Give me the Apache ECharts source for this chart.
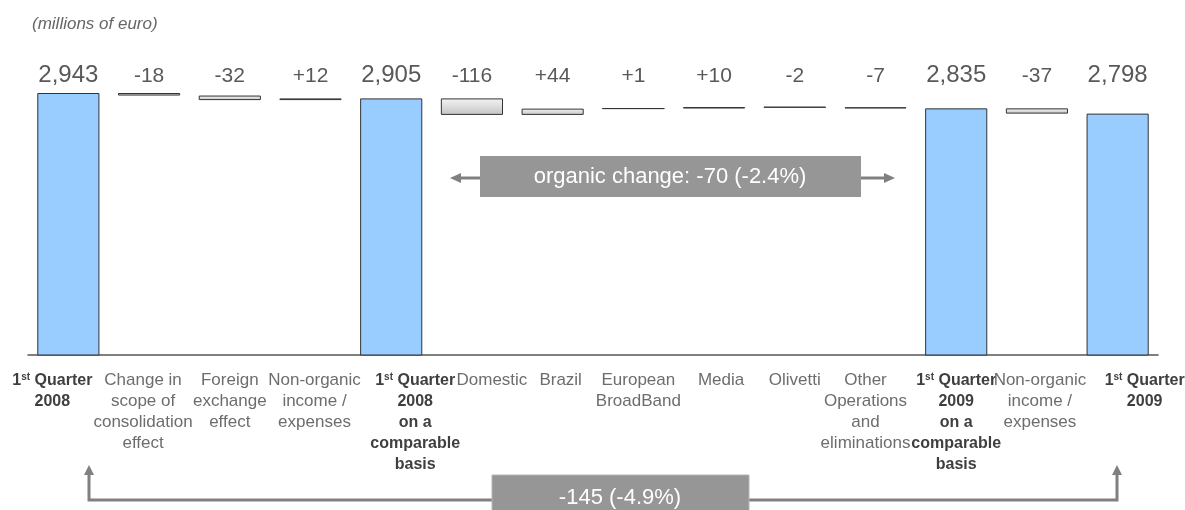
<!DOCTYPE html>
<html><head><meta charset="utf-8">
<script src="https://cdn.jsdelivr.net/npm/echarts@6/dist/echarts.min.js"></script>
<style>html,body{margin:0;padding:0;background:#fff}#c{width:1185px;height:510px}</style>
</head><body><div id="c"></div>
<script>
const categories = [
  '1st Quarter\n2008',
  'Change in\nscope of\nconsolidation\neffect',
  'Foreign\nexchange\neffect',
  'Non-organic\nincome /\nexpenses',
  '1st Quarter\n2008\non a\ncomparable\nbasis',
  'Domestic',
  'Brazil',
  'European\nBroadBand',
  'Media',
  'Olivetti',
  'Other\nOperations\nand\neliminations',
  '1st Quarter\n2009\non a\ncomparable\nbasis',
  'Non-organic\nincome /\nexpenses',
  '1st Quarter\n2009'
];
const values = [2943, -18, -32, 12, 2905, -116, 44, 1, 10, -2, -7, 2835, -37, 2798];
const isTotal = [true, false, false, false, true, false, false, false, false, false, false, true, false, true];
const valueLabels = ['2,943', '-18', '-32', '+12', '2,905', '-116', '+44', '+1', '+10', '-2', '-7', '2,835', '-37', '2,798'];
const unitText = '(millions of euro)';
const organicText = 'organic change: -70 (-2.4%)';
const totalChangeText = '-145 (-4.9%)';

// style only: horizontal nudge (px) of each category label, as laid out in the original slide
const labelShift = [-16, -6, 0, 4, 24, 20, 8, 5, 7, 0, -10, 0, 3, 27];

// waterfall decomposition
const baseData = [];
const barData = [];
let level = 0;
values.forEach((v, i) => {
  if (isTotal[i]) {
    baseData.push(0);
    barData.push(v);
    level = v;
  } else {
    const next = level + v;
    baseData.push(Math.min(level, next));
    barData.push(Math.abs(v));
    level = next;
  }
});

const FONT = '"Liberation Sans", Arial, sans-serif';
const deltaFill = {
  type: 'linear', x: 0, y: 0, x2: 0, y2: 1,
  colorStops: [{ offset: 0, color: '#f4f4f4' }, { offset: 1, color: '#c4c4c4' }]
};

const catRich = {
  n: { fontSize: 17, lineHeight: 21, color: '#6d6d6d', fontFamily: FONT, align: 'center' },
  b: { fontSize: 16, lineHeight: 21, color: '#3f3f3f', fontWeight: 'bold', fontFamily: FONT, align: 'center' },
  sup: { fontSize: 10, color: '#3f3f3f', fontWeight: 'bold', fontFamily: FONT, verticalAlign: 'top', align: 'center', padding: [2, 0, 0, 0] }
};
labelShift.forEach((s, i) => {
  catRich['g' + i] = { width: Math.max(1, Math.abs(s) * 2), fontSize: 17, lineHeight: 21, align: 'center' };
});

function catFmt(v, i) {
  const s = labelShift[i] || 0;
  const sp = s !== 0 ? '{g' + i + '| }' : '';
  const lines = v.split('\n').map(line => {
    let body;
    if (line.indexOf('1st ') === 0) body = '{b|1}{sup|st}{b|' + line.slice(3) + '}';
    else if (isTotal[i]) body = '{b|' + line + '}';
    else body = '{n|' + line + '}';
    return s > 0 ? sp + body : (s < 0 ? body + sp : body);
  });
  return lines.join('\n');
}

const chart = echarts.init(document.getElementById('c'), null, { renderer: 'canvas' });
const grey = '#808080';
chart.setOption({
  animation: false,
  backgroundColor: '#fff',
  textStyle: { fontFamily: FONT },
  grid: { left: 28, right: 27, top: 93, bottom: 155, containLabel: false, outerBoundsMode: 'none' },
  xAxis: [
    {
      type: 'category', position: 'bottom', data: categories,
      axisLine: { lineStyle: { color: '#555', width: 1.5 } },
      axisTick: { show: false },
      axisLabel: {
        interval: 0, margin: 15, hideOverlap: false,
        formatter: catFmt,
        rich: catRich
      }
    },
    {
      type: 'category', position: 'top', data: valueLabels,
      axisLine: { show: false }, axisTick: { show: false },
      axisLabel: {
        interval: 0, margin: 6, hideOverlap: false,
        formatter: (v, i) => (isTotal[i] ? '{t|' + v + '}' : '{d|' + v + '}'),
        rich: {
          t: { fontSize: 24, color: '#595959', fontFamily: FONT },
          d: { fontSize: 21, color: '#595959', fontFamily: FONT }
        }
      }
    }
  ],
  yAxis: { type: 'value', min: 1100, max: 2943, show: false, splitLine: { show: false } },
  series: [
    {
      type: 'bar', stack: 'w', data: baseData, barWidth: '77%', silent: true,
      itemStyle: { color: 'rgba(0,0,0,0)' }, clip: true
    },
    {
      type: 'bar', stack: 'w', barWidth: '77%', clip: true,
      data: barData.map((v, i) => ({
        value: v,
        itemStyle: isTotal[i]
          ? { color: '#99CCFF', borderColor: '#333', borderWidth: 1 }
          : { color: deltaFill, borderColor: '#333', borderWidth: 1 }
      }))
    }
  ],
  graphic: [
    { type: 'text', left: 32, top: 16, style: { text: unitText, font: 'italic 17px ' + FONT, fill: '#666' } },
    // organic change annotation
    { type: 'line', shape: { x1: 458, y1: 178, x2: 481, y2: 178 }, style: { stroke: grey, lineWidth: 3 } },
    { type: 'polygon', shape: { points: [[450, 178], [461, 173], [461, 183]] }, style: { fill: grey } },
    { type: 'line', shape: { x1: 860, y1: 178, x2: 886, y2: 178 }, style: { stroke: grey, lineWidth: 3 } },
    { type: 'polygon', shape: { points: [[895, 178], [884, 173], [884, 183]] }, style: { fill: grey } },
    { type: 'rect', shape: { x: 480, y: 156, width: 381, height: 41 }, style: { fill: '#969696' } },
    { type: 'text', x: 670, y: 177, style: { text: organicText, font: '22px ' + FONT, fill: '#fff', align: 'center', verticalAlign: 'middle' } },
    // total change annotation
    { type: 'polyline', shape: { points: [[89, 474], [89, 500], [1117, 500], [1117, 474]] }, style: { stroke: grey, lineWidth: 3, fill: null } },
    { type: 'polygon', shape: { points: [[89, 465], [84, 475], [94, 475]] }, style: { fill: grey } },
    { type: 'polygon', shape: { points: [[1117, 465], [1112, 475], [1122, 475]] }, style: { fill: grey } },
    { type: 'rect', shape: { x: 492, y: 475, width: 257, height: 40 }, style: { fill: '#969696', stroke: '#b5b5b5', lineWidth: 1 } },
    { type: 'text', x: 620, y: 498, style: { text: totalChangeText, font: '22px ' + FONT, fill: '#fff', align: 'center', verticalAlign: 'middle' } }
  ]
});
</script>
</body></html>
